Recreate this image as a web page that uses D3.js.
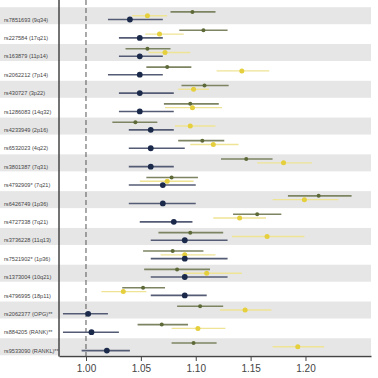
<!DOCTYPE html>
<html>
<head>
<meta charset="utf-8">
<script src="https://cdn.jsdelivr.net/npm/d3@7"></script>
<style>
  html, body { margin: 0; padding: 0; background: #fff; }
  svg { display: block; font-family: "Liberation Sans", Arial, sans-serif; }
</style>
</head>
<body>
<div id="canvas"></div>
<script>
// snp labels, top to bottom
var snps = ["rs7851693 (9q34)", "rs227584 (17q21)", "rs163879 (11p14)", "rs2062212 (7p14)",
    "rs430727 (3p22)", "rs1286083 (14q32)", "rs4233949 (2p16)", "rs6532023 (4q22)",
    "rs3801387 (7q31)", "rs4792909* (7q21)", "rs6426749 (1p36)", "rs4727338 (7q21)",
    "rs3736228 (11q13)", "rs7521902* (1p36)", "rs1373004 (10q21)", "rs4796995 (18p11)",
    "rs2062377 (OPG)**", "rs884205 (RANK)**", "rs9533090 (RANKL)**"];

// [estimate, lower, upper]
var olive = [[1.097, 1.077, 1.118], [1.107, 1.085, 1.129], [1.056, 1.036, 1.077], [1.074, 1.055, 1.096],
    [1.108, 1.087, 1.130], [1.095, 1.071, 1.121], [1.045, 1.024, 1.065], [1.106, 1.084, 1.126],
    [1.146, 1.123, 1.170], [1.078, 1.055, 1.102], [1.212, 1.184, 1.242], [1.156, 1.134, 1.178],
    [1.095, 1.066, 1.125], [1.079, 1.052, 1.107], [1.083, 1.053, 1.113], [1.052, 1.033, 1.072],
    [1.104, 1.083, 1.125], [1.069, 1.047, 1.093], [1.098, 1.078, 1.119]];
var yellow = [[1.056, 1.042, 1.074], [1.067, 1.054, 1.089], [1.072, 1.057, 1.095], [1.142, 1.119, 1.167],
    [1.098, 1.084, 1.112], [1.097, 1.072, 1.124], [1.095, 1.081, 1.118], [1.116, 1.095, 1.139],
    [1.180, 1.156, 1.206], [1.074, 1.049, 1.098], [1.199, 1.170, 1.230], [1.140, 1.116, 1.164],
    [1.165, 1.133, 1.199], [1.090, 1.068, 1.118], [1.110, 1.089, 1.142], [1.034, 1.014, 1.055],
    [1.145, 1.122, 1.169], [1.102, 1.078, 1.127], [1.193, 1.170, 1.217]];
var navy = [[1.040, 1.020, 1.070], [1.049, 1.030, 1.070], [1.049, 1.030, 1.070], [1.049, 1.020, 1.070],
    [1.049, 1.030, 1.080], [1.049, 1.030, 1.080], [1.059, 1.039, 1.080], [1.059, 1.039, 1.090],
    [1.059, 1.039, 1.080], [1.070, 1.039, 1.100], [1.070, 1.039, 1.100], [1.080, 1.049, 1.097],
    [1.090, 1.059, 1.129], [1.090, 1.059, 1.129], [1.090, 1.059, 1.129], [1.090, 1.059, 1.110],
    [1.002, 0.979, 1.020], [1.005, 0.979, 1.030], [1.019, 0.996, 1.040]];

var tickVals = [1.00, 1.05, 1.10, 1.15, 1.20];

var width = 378, height = 378;
var svg = d3.select("#canvas").append("svg")
    .attr("width", width).attr("height", height);

var x = d3.scaleLinear().domain([0.9754, 1.2597]).range([59, 371]);
var y = d3.scaleBand().domain(snps).range([6.5, 356]).paddingInner(0);
var step = y.step();

// stripes
svg.selectAll("rect.band")
    .data(snps.filter(function(d, i) { return i % 2 === 0; }))
    .enter().append("rect")
    .attr("class", "band")
    .attr("x", 0)
    .attr("width", 371)
    .attr("y", function(d) { return y(d) + 0.7; })
    .attr("height", step - 1.4)
    .attr("fill", "#e6e6e6");

// labels
svg.selectAll("text.snp")
    .data(snps).enter().append("text")
    .attr("class", "snp")
    .attr("x", 4)
    .attr("y", function(d) { return y(d) + step / 2 + 4.5; })
    .attr("dominant-baseline", "middle")
    .attr("font-size", 5.6)
    .attr("fill", "#444")
    .text(function(d) { return d; });

// reference line at 1
svg.append("line")
    .attr("x1", x(1)).attr("x2", x(1))
    .attr("y1", 0).attr("y2", 356)
    .attr("stroke", "#555").attr("stroke-width", 1)
    .attr("stroke-dasharray", "5,3");

var series = [
    { data: olive, off: -3.8, line: "#7d8462", lw: 1.6, dot: "#5d6a38", r: 2.0 },
    { data: yellow, off: 0, line: "#efe395", lw: 1.4, dot: "#e5cf3c", r: 2.5 },
    { data: navy, off: 3.8, line: "#545c75", lw: 1.6, dot: "#1b2a4b", r: 2.9 }
];

series.forEach(function(s) {
    var g = svg.append("g");
    g.selectAll("line")
        .data(s.data).enter().append("line")
        .attr("x1", function(d) { return x(d[1]); })
        .attr("x2", function(d) { return x(d[2]); })
        .attr("y1", function(d, i) { return y(snps[i]) + step / 2 + s.off; })
        .attr("y2", function(d, i) { return y(snps[i]) + step / 2 + s.off; })
        .attr("stroke", s.line)
        .attr("stroke-width", s.lw);
    g.selectAll("circle")
        .data(s.data).enter().append("circle")
        .attr("cx", function(d) { return x(d[0]); })
        .attr("cy", function(d, i) { return y(snps[i]) + step / 2 + s.off; })
        .attr("r", s.r)
        .attr("fill", s.dot);
});

// left spine
svg.append("line")
    .attr("x1", 59).attr("x2", 59)
    .attr("y1", 0).attr("y2", 356.5)
    .attr("stroke", "#444").attr("stroke-width", 1.5);

// bottom axis
var axis = svg.append("g")
    .attr("transform", "translate(0,356)")
    .call(d3.axisBottom(x).tickValues(tickVals).tickFormat(d3.format(".2f")).tickSize(5).tickSizeOuter(0));
axis.select(".domain").attr("stroke", "#444").attr("stroke-width", 1.5);
axis.selectAll(".tick line").attr("stroke", "#444");
axis.selectAll(".tick text")
    .attr("font-size", 10)
    .attr("fill", "#444")
    .attr("font-family", "Liberation Sans, Arial, sans-serif")
    .attr("dy", "0.8em");
</script>
</body>
</html>
